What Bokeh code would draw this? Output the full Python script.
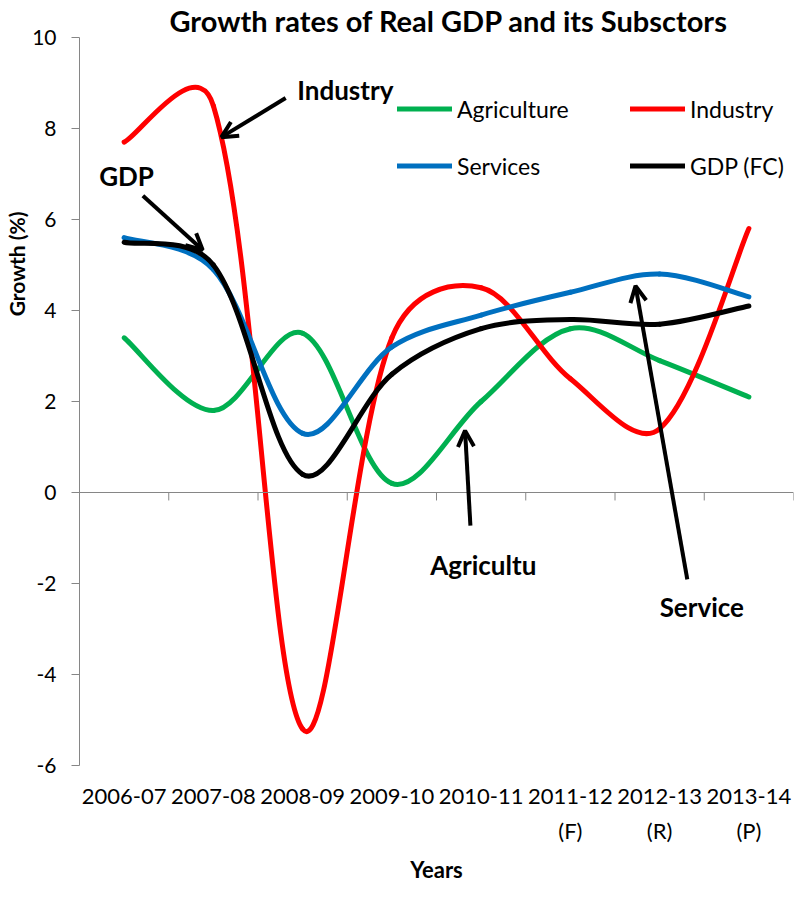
import math
from bokeh.plotting import figure
from bokeh.models import (Span, Label, Arrow, OpenHead, Legend, LegendItem,
                          FixedTicker, Range1d, ColumnDataSource, Title)
from bokeh.embed import file_html
from bokeh.resources import INLINE

# ---------------- data ----------------
years = ["2006-07", "2007-08", "2008-09", "2009-10", "2010-11", "2011-12", "2012-13", "2013-14"]
year_notes = ["", "", "", "", "", "(F)", "(R)", "(P)"]
agriculture = [3.4, 1.8, 3.5, 0.2, 2.0, 3.6, 2.9, 2.1]
industry = [7.7, 8.5, -5.2, 3.4, 4.5, 2.5, 1.4, 5.8]
services = [5.6, 4.9, 1.3, 3.2, 3.9, 4.4, 4.8, 4.3]
gdp = [5.5, 5.0, 0.4, 2.6, 3.6, 3.8, 3.7, 4.1]
y_ticks = [-6, -4, -2, 0, 2, 4, 6, 8, 10]

series_names = ["Agriculture", "Industry", "Services", "GDP (FC)"]
series_colors = ["#00B050", "#FF0000", "#0070C0", "#000000"]

# annotations (text, x, y) and arrows (x_start, y_start, x_end, y_end)
note_texts = ["Industry", "GDP", "Agricultu", "Service"]
note_x = [2.44, 0.22, 3.93, 6.50]
note_y = [8.84, 6.95, -1.59, -2.52]
arrow_x0 = [2.31, 0.71, 4.38, 6.81]
arrow_y0 = [8.67, 6.52, -0.73, -1.91]
arrow_x1 = [1.59, 1.38, 4.32, 6.23]
arrow_y1 = [7.81, 5.33, 1.36, 4.54]

# ---------------- layout ----------------
W, H = 795, 885
BL, BR, BT, BB = 76, 2, 37, 116
n = len(years)
SX = (W - BL - BR) / n          # px per category
SY = (H - BT - BB) / 16.0       # px per unit

FONT = "Lato"
AXIS_GRAY = "#868686"

p = figure(width=W, height=H, x_range=Range1d(0, n), y_range=Range1d(-6, 10),
           output_backend="svg", toolbar_location=None,
           min_border_left=BL, min_border_right=BR, min_border_top=BT, min_border_bottom=BB)
p.grid.visible = False
p.outline_line_color = None
p.background_fill_color = "white"
p.border_fill_color = "white"

p.title.text = "Growth rates of Real GDP and its Subsctors"
p.title.align = "left"
p.title.offset = 90
p.title.standoff = 0
p.title.text_font = FONT
p.title.text_font_size = "29px"
p.title.text_font_style = "bold"
p.title.text_color = "#000000"


def smooth_segments(vals):
    """Excel-like smoothed line: cubic Bezier segments through the data points."""
    xs = [i + 0.5 for i in range(len(vals))]
    px = [x * SX for x in xs]
    py = [v * SY for v in vals]
    m = len(vals)
    d = [math.hypot(px[i + 1] - px[i], py[i + 1] - py[i]) for i in range(m - 1)]
    cin = [None] * m
    cout = [None] * m
    for i in range(m):
        if i == 0:
            tx, ty = px[1] - px[0], py[1] - py[0]
            cout[i] = (px[i] + tx / 6, py[i] + ty / 6)
        elif i == m - 1:
            tx, ty = px[i] - px[i - 1], py[i] - py[i - 1]
            cin[i] = (px[i] - tx / 6, py[i] - ty / 6)
        else:
            tx, ty = px[i + 1] - px[i - 1], py[i + 1] - py[i - 1]
            a, b = math.sqrt(d[i - 1]), math.sqrt(d[i])
            cin[i] = (px[i] - tx * a / (3 * (a + b)), py[i] - ty * a / (3 * (a + b)))
            cout[i] = (px[i] + tx * b / (3 * (a + b)), py[i] + ty * b / (3 * (a + b)))
    data = dict(x0=[], y0=[], x1=[], y1=[], cx0=[], cy0=[], cx1=[], cy1=[])
    for i in range(m - 1):
        data["x0"].append(xs[i]); data["y0"].append(vals[i])
        data["x1"].append(xs[i + 1]); data["y1"].append(vals[i + 1])
        data["cx0"].append(cout[i][0] / SX); data["cy0"].append(cout[i][1] / SY)
        data["cx1"].append(cin[i + 1][0] / SX); data["cy1"].append(cin[i + 1][1] / SY)
    return ColumnDataSource(data)


# zero line and category tick marks (horizontal axis crossing at 0)
p.add_layout(Span(location=0, dimension="width", line_color=AXIS_GRAY, line_width=1))
bounds = list(range(1, n + 1))
p.segment(x0=bounds, y0=[0] * n, x1=bounds, y1=[-8 / SY] * n, line_color=AXIS_GRAY, line_width=1)

renderers = {}
for nm, vals, col in zip(series_names, [agriculture, industry, services, gdp], series_colors):
    src = smooth_segments(vals)
    renderers[nm] = p.bezier(x0="x0", y0="y0", x1="x1", y1="y1", cx0="cx0", cy0="cy0",
                             cx1="cx1", cy1="cy1", source=src, line_color=col,
                             line_width=5, line_cap="round")

# legend is filled column by column: column 1 = Agriculture, Services
legend_order = ["Agriculture", "Services", "Industry", "GDP (FC)"]
legend = Legend(items=[LegendItem(label=nm, renderers=[renderers[nm]]) for nm in legend_order],
                ncols=2, location=(318, 580), margin=0, padding=0,
                border_line_color=None, background_fill_alpha=0,
                glyph_width=55, glyph_height=39, label_height=39, label_width=155,
                label_standoff=5, spacing=18,
                label_text_font=FONT, label_text_font_size="23px", label_text_color="#000000")
p.add_layout(legend)

# y axis
p.yaxis.ticker = FixedTicker(ticks=y_ticks)
p.yaxis.major_label_overrides = {t: str(t) for t in y_ticks}
p.yaxis.axis_line_color = AXIS_GRAY
p.yaxis.major_tick_line_color = AXIS_GRAY
p.yaxis.major_tick_out = 8
p.yaxis.major_tick_in = 0
p.yaxis.minor_tick_line_color = None
p.yaxis.major_label_standoff = 15
p.yaxis.major_label_text_font = FONT
p.yaxis.major_label_text_font_size = "21px"
p.yaxis.major_label_text_color = "#000000"

# y-axis title, placed high as in the reference
p.add_layout(Title(text="Growth (%)", align="right", offset=174, standoff=2,
                   text_font=FONT, text_font_size="21px", text_font_style="bold",
                   text_color="#000000"), "left")

# x axis (labels only, at bottom)
p.xaxis.ticker = FixedTicker(ticks=[i + 0.5 for i in range(n)])
p.xaxis.major_label_overrides = {i + 0.5: (yr + "\n" + nt if nt else yr)
                                 for i, (yr, nt) in enumerate(zip(years, year_notes))}
p.xaxis.axis_line_color = None
p.xaxis.major_tick_line_color = None
p.xaxis.minor_tick_line_color = None
p.xaxis.major_tick_out = 0
p.xaxis.major_tick_in = 0
p.xaxis.major_label_standoff = 16
p.xaxis.major_label_text_font = FONT
p.xaxis.major_label_text_font_size = "22px"
p.xaxis.major_label_text_color = "#000000"
p.xaxis.major_label_text_line_height = 1.3
p.xaxis.axis_label = "Years"
p.xaxis.axis_label_text_font = FONT
p.xaxis.axis_label_text_font_size = "22px"
p.xaxis.axis_label_text_font_style = "bold"
p.xaxis.axis_label_text_color = "#000000"
p.xaxis.axis_label_standoff = 9

# callouts
for t, x, y in zip(note_texts, note_x, note_y):
    p.add_layout(Label(x=x, y=y, text=t, text_font=FONT, text_font_size="26px",
                       text_font_style="bold", text_align="left", text_baseline="alphabetic",
                       text_color="#000000"))
for xs, ys, xe, ye in zip(arrow_x0, arrow_y0, arrow_x1, arrow_y1):
    p.add_layout(Arrow(x_start=xs, y_start=ys, x_end=xe, y_end=ye, line_width=4,
                       line_color="#000000",
                       end=OpenHead(size=16, line_width=4, line_color="#000000")))

open("out.html", "w").write(file_html(p, INLINE))
